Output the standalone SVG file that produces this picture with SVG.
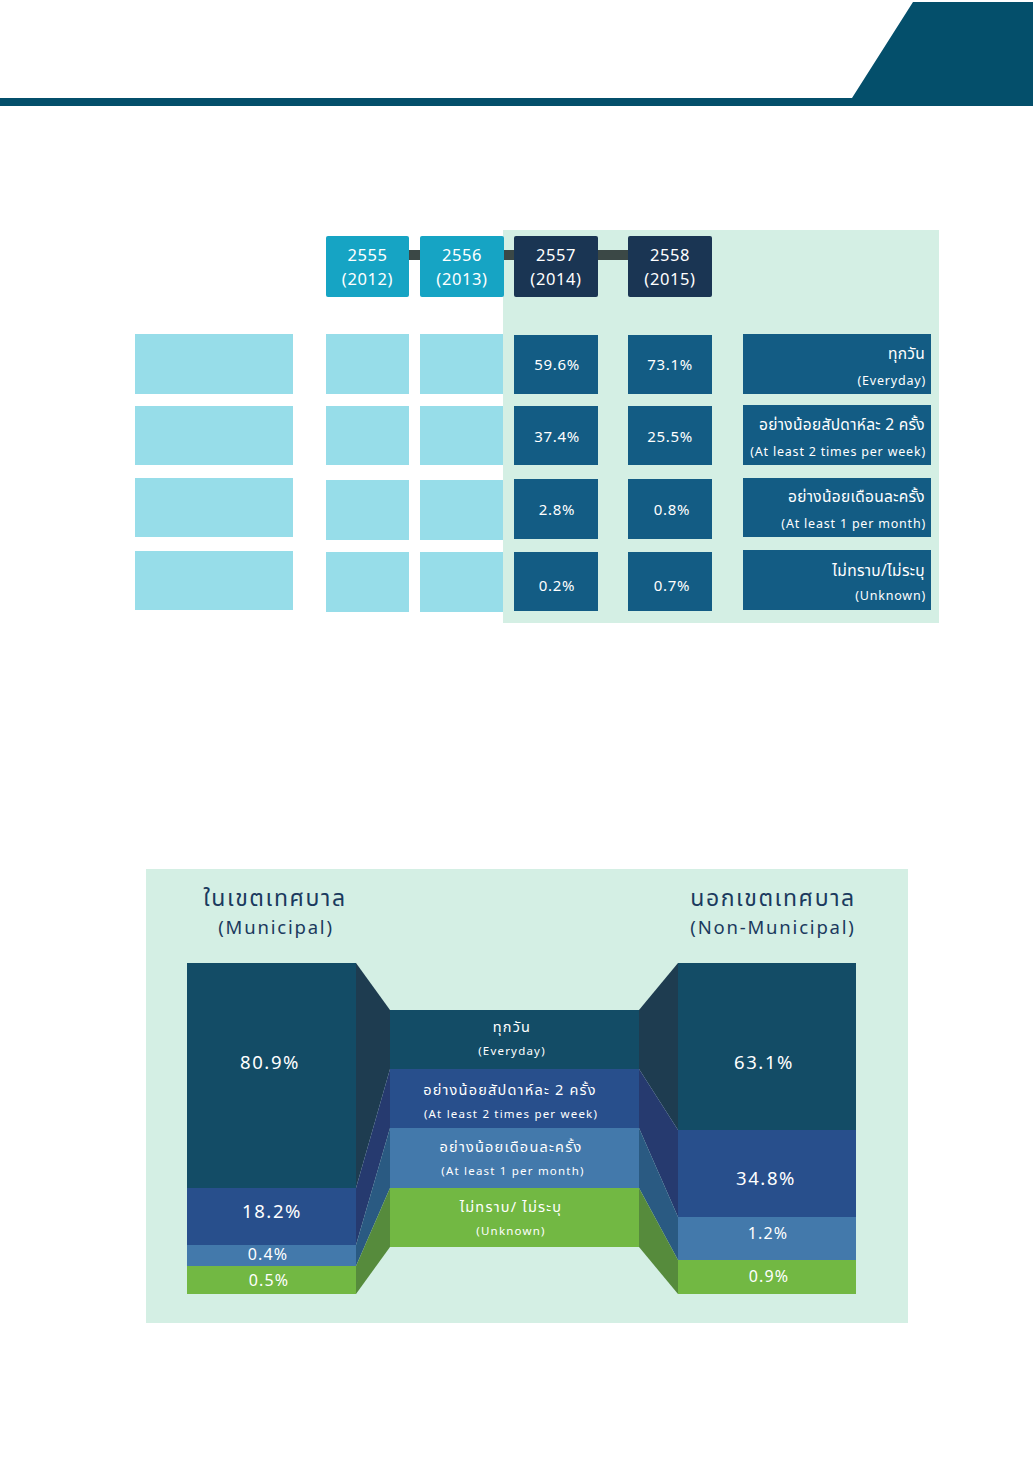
<svg xmlns="http://www.w3.org/2000/svg" width="1033" height="1479" viewBox="0 0 1033 1479">
<style>
text{font-family:"Noto Sans Thai","Noto Sans","DejaVu Sans","Liberation Sans",sans-serif;fill:#ffffff}
.yr{font-size:16.5px;text-anchor:middle;letter-spacing:0.6px}
.val{font-size:15px;text-anchor:middle;letter-spacing:0.7px}
.lth{font-size:15.5px;text-anchor:end;letter-spacing:0.3px}
.len{font-size:12.5px;text-anchor:end;letter-spacing:0.8px}
.mth{font-size:14.5px;text-anchor:middle;letter-spacing:1.2px}
.men{font-size:11.5px;text-anchor:middle;letter-spacing:1.2px}
.bv{font-size:18.5px;text-anchor:middle;letter-spacing:1.6px}
.bvs{font-size:16px;text-anchor:middle;letter-spacing:1.2px}
.ttl{font-size:23px;text-anchor:middle;fill:#1b3a5e;letter-spacing:1.6px}
.tsub{font-size:18.5px;text-anchor:middle;fill:#1b3a5e;letter-spacing:1.8px}
.lb{fill:#97dde9}
.vb{fill:#135c84}
.yc{fill:#16a4c4}
.yd{fill:#1a3553}
.c1{fill:#134c66}.c2{fill:#284f8c}.c3{fill:#4379ab}.c4{fill:#72b843}
.s1{fill:#1e3c50}.s2{fill:#263a6f}.s3{fill:#2a5a82}.s4{fill:#568b3c}
</style>
<rect width="1033" height="1479" fill="#ffffff"/>
<g id="header">
<polygon points="0,98 852,98 913,2 1033,2 1033,106 0,106" fill="#044f6b"/>
</g>
<g id="top-panel">
<rect x="503" y="230" width="436" height="393" fill="#d4efe4"/>
</g>
<g id="connectors">
<rect x="405" y="250" width="228" height="10" fill="#3b4846"/>
</g>
<g id="year-2555"><rect class="yc" x="326" y="236" width="83" height="61" rx="2"/><text class="yr" x="367.5" y="261">2555</text><text class="yr" x="367.5" y="285">(2012)</text></g>
<g id="year-2556"><rect class="yc" x="420" y="236" width="84" height="61" rx="2"/><text class="yr" x="462" y="261">2556</text><text class="yr" x="462" y="285">(2013)</text></g>
<g id="year-2557"><rect class="yd" x="514" y="236" width="84" height="61" rx="2"/><text class="yr" x="556" y="261">2557</text><text class="yr" x="556" y="285">(2014)</text></g>
<g id="year-2558"><rect class="yd" x="628" y="236" width="84" height="61" rx="2"/><text class="yr" x="670" y="261">2558</text><text class="yr" x="670" y="285">(2015)</text></g>
<g id="blank-cells">
<rect class="lb" x="135" y="334" width="158" height="60"/>
<rect class="lb" x="135" y="406" width="158" height="59"/>
<rect class="lb" x="135" y="478" width="158" height="59"/>
<rect class="lb" x="135" y="551" width="158" height="59"/>
<rect class="lb" x="326" y="334" width="83" height="60"/>
<rect class="lb" x="326" y="406" width="83" height="59"/>
<rect class="lb" x="326" y="480" width="83" height="60"/>
<rect class="lb" x="326" y="552" width="83" height="60"/>
<rect class="lb" x="420" y="334" width="83" height="60"/>
<rect class="lb" x="420" y="406" width="83" height="59"/>
<rect class="lb" x="420" y="480" width="83" height="60"/>
<rect class="lb" x="420" y="552" width="83" height="60"/>
</g>
<g id="row-everyday">
<rect class="vb" x="514" y="335" width="84" height="59"/><text class="val" x="557" y="370">59.6%</text>
<rect class="vb" x="628" y="335" width="84" height="59"/><text class="val" x="670" y="370">73.1%</text>
<rect class="vb" x="743" y="334" width="188" height="60"/><text class="lth" x="925" y="359">ทุกวัน</text><text class="len" x="926" y="385">(Everyday)</text>
</g>
<g id="row-2week">
<rect class="vb" x="514" y="406" width="84" height="59"/><text class="val" x="557" y="442">37.4%</text>
<rect class="vb" x="628" y="406" width="84" height="59"/><text class="val" x="670" y="442">25.5%</text>
<rect class="vb" x="743" y="405" width="188" height="60"/><text class="lth" x="925" y="430">อย่างน้อยสัปดาห์ละ 2 ครั้ง</text><text class="len" x="926" y="456">(At least 2 times per week)</text>
</g>
<g id="row-month">
<rect class="vb" x="514" y="479" width="84" height="60"/><text class="val" x="557" y="515">2.8%</text>
<rect class="vb" x="628" y="479" width="84" height="60"/><text class="val" x="672" y="515">0.8%</text>
<rect class="vb" x="743" y="478" width="188" height="59"/><text class="lth" x="925" y="502">อย่างน้อยเดือนละครั้ง</text><text class="len" x="926" y="528">(At least 1 per month)</text>
</g>
<g id="row-unknown">
<rect class="vb" x="514" y="552" width="84" height="59"/><text class="val" x="557" y="591">0.2%</text>
<rect class="vb" x="628" y="552" width="84" height="59"/><text class="val" x="672" y="591">0.7%</text>
<rect class="vb" x="743" y="550" width="188" height="60"/><text class="lth" x="925" y="576">ไม่ทราบ/ไม่ระบุ</text><text class="len" x="926" y="600">(Unknown)</text>
</g>
<g id="bottom-panel">
<rect x="146" y="869" width="762" height="454" fill="#d4efe4"/>
</g>
<g id="title-municipal"><text class="ttl" x="275" y="906">ในเขตเทศบาล</text><text class="tsub" x="276" y="934">(Municipal)</text></g>
<g id="title-nonmunicipal"><text class="ttl" x="773" y="906">นอกเขตเทศบาล</text><text class="tsub" x="773" y="934">(Non-Municipal)</text></g>
<g id="bar-municipal">
<rect class="c1" x="187" y="963" width="169" height="225"/>
<rect class="c2" x="187" y="1188" width="169" height="57"/>
<rect class="c3" x="187" y="1245" width="169" height="21"/>
<rect class="c4" x="187" y="1266" width="169" height="28"/>
<text class="bv" x="270" y="1069">80.9%</text>
<text class="bv" x="272" y="1218">18.2%</text>
<text class="bvs" x="268" y="1260">0.4%</text>
<text class="bvs" x="269" y="1286">0.5%</text>
</g>
<g id="side-left">
<polygon class="s1" points="356,963 390,1010 390,1069 356,1188"/>
<polygon class="s2" points="356,1188 390,1069 390,1128 356,1245"/>
<polygon class="s3" points="356,1245 390,1128 390,1188 356,1266"/>
<polygon class="s4" points="356,1266 390,1188 390,1247 356,1294"/>
</g>
<g id="side-right">
<polygon class="s1" points="639,1010 678,963 678,1130 639,1069"/>
<polygon class="s2" points="639,1069 678,1130 678,1217 639,1128"/>
<polygon class="s3" points="639,1128 678,1217 678,1260 639,1188"/>
<polygon class="s4" points="639,1188 678,1260 678,1294 639,1247"/>
</g>
<g id="legend-middle">
<rect class="c1" x="390" y="1010" width="249" height="59"/>
<rect class="c2" x="390" y="1069" width="249" height="59"/>
<rect class="c3" x="390" y="1128" width="249" height="60"/>
<rect class="c4" x="390" y="1188" width="249" height="59"/>
<text class="mth" x="512" y="1032">ทุกวัน</text><text class="men" x="512" y="1055">(Everyday)</text>
<text class="mth" x="510" y="1095">อย่างน้อยสัปดาห์ละ 2 ครั้ง</text><text class="men" x="511" y="1118">(At least 2 times per week)</text>
<text class="mth" x="511" y="1152">อย่างน้อยเดือนละครั้ง</text><text class="men" x="513" y="1175">(At least 1 per month)</text>
<text class="mth" x="511" y="1212">ไม่ทราบ/ ไม่ระบุ</text><text class="men" x="511" y="1235">(Unknown)</text>
</g>
<g id="bar-nonmunicipal">
<rect class="c1" x="678" y="963" width="178" height="167"/>
<rect class="c2" x="678" y="1130" width="178" height="87"/>
<rect class="c3" x="678" y="1217" width="178" height="43"/>
<rect class="c4" x="678" y="1260" width="178" height="34"/>
<text class="bv" x="764" y="1069">63.1%</text>
<text class="bv" x="766" y="1185">34.8%</text>
<text class="bvs" x="768" y="1239">1.2%</text>
<text class="bvs" x="769" y="1282">0.9%</text>
</g>
</svg>
